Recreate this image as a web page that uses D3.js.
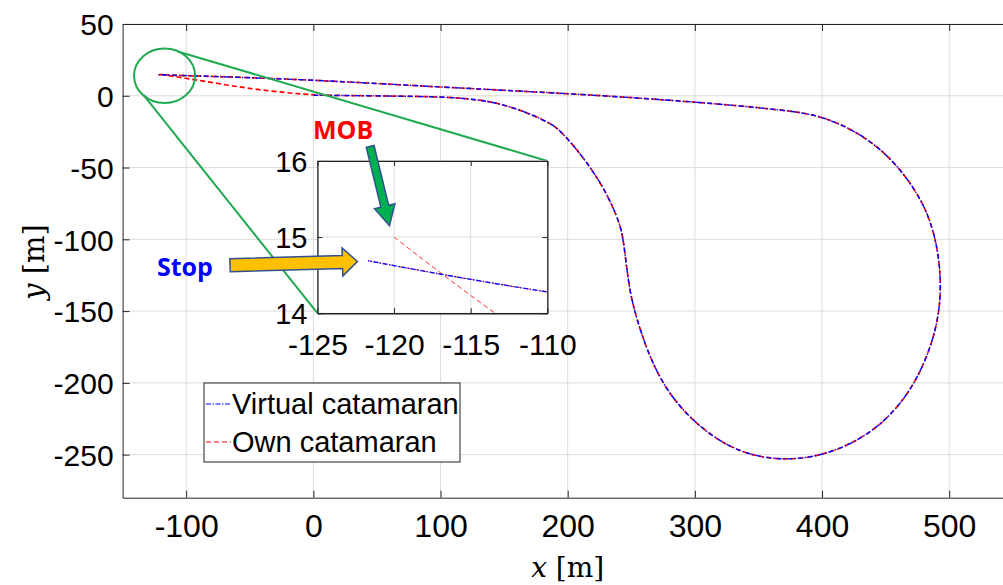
<!DOCTYPE html>
<html>
<head>
<meta charset="utf-8">
<script src="https://cdn.jsdelivr.net/npm/d3@7"></script>
<style>
  body { margin: 0; background: #fff; }
  svg { display: block; }
  .tick text { font-family: "Liberation Sans", Arial, sans-serif; fill: #000; }
</style>
</head>
<body>
<div id="chart"></div>
<script>
// ticks
var xTicks = [-100, 0, 100, 200, 300, 400, 500];
var yTicks = [50, 0, -50, -100, -150, -200, -250];
var insetXTicks = [-125, -120, -115, -110];
var insetYTicks = [14, 15, 16];

// virtual catamaran: lower leg -> loop -> upper leg back to stop point
var virtualX = [0, 40, 94, 121, 147, 173, 186, 194, 212, 228, 239, 243, 245, 247, 250, 260, 275, 299, 333, 372, 409, 443, 467, 482, 491, 494, 491, 482, 461, 435, 401, 370, 300, 199, 94, -10, -110, -121.7];
var virtualY = [0.4, 0, -0.5, -1.8, -5, -13.4, -19.2, -23.8, -42.4, -63.3, -84.2, -96, -109.7, -124, -142.3, -172.4, -202.6, -228.1, -249, -254.9, -249, -232.8, -209.6, -184, -158.5, -133, -105.1, -77.3, -49.4, -28.5, -13.9, -9.9, -4.1, 1.7, 6.3, 11.6, 14.28, 14.69];

// own catamaran: from MOB point towards the lower leg, then same loop
var ownX = [-120, -113.4, -100, -73, -47, -20, 0, 40, 94, 121, 147, 173, 186, 194, 212, 228, 239, 243, 245, 247, 250, 260, 275, 299, 333, 372, 409, 443, 467, 482, 491, 494, 491, 482, 461, 435, 401, 370, 300, 199, 94, -10, -110, -121.7];
var ownY = [15, 14, 12.2, 8.2, 4.6, 2, 0.4, 0, -0.5, -1.8, -5, -13.4, -19.2, -23.8, -42.4, -63.3, -84.2, -96, -109.7, -124, -142.3, -172.4, -202.6, -228.1, -249, -254.9, -249, -232.8, -209.6, -184, -158.5, -133, -105.1, -77.3, -49.4, -28.5, -13.9, -9.9, -4.1, 1.7, 6.3, 11.6, 14.28, 14.69];

var seriesNames = ["Virtual catamaran", "Own catamaran"];

var width = 1003, height = 585;

var svg = d3.select("#chart").append("svg")
  .attr("width", width)
  .attr("height", height);

var x = d3.scaleLinear().domain([-150, 550]).range([122.6, 1012.8]);
var y = d3.scaleLinear().domain([-280, 50]).range([497.7, 24]);

var virtualPts = virtualX.map(function(v, i) { return [v, virtualY[i]]; });
var ownPts = ownX.map(function(v, i) { return [v, ownY[i]]; });

var fmt = function(d) { return String(d); };

var defs = svg.append("defs");
defs.append("clipPath").attr("id", "clipMain").append("rect")
  .attr("x", x(-150)).attr("y", y(50))
  .attr("width", x(550) - x(-150)).attr("height", y(-280) - y(50));

// grid
var grid = svg.append("g");
grid.selectAll(".gx").data(xTicks).enter().append("line")
  .attr("x1", function(d) { return x(d); }).attr("x2", function(d) { return x(d); })
  .attr("y1", y(50)).attr("y2", y(-280))
  .attr("stroke", "#dcdcdc").attr("stroke-width", 1);
grid.selectAll(".gy").data(yTicks).enter().append("line")
  .attr("x1", x(-150)).attr("x2", x(550))
  .attr("y1", function(d) { return y(d); }).attr("y2", function(d) { return y(d); })
  .attr("stroke", "#dcdcdc").attr("stroke-width", 1);

// main lines
var line = d3.line()
  .x(function(d) { return x(d[0]); })
  .y(function(d) { return y(d[1]); })
  .curve(d3.curveBasis);

var plot = svg.append("g").attr("clip-path", "url(#clipMain)");
plot.append("path").datum(ownPts)
  .attr("d", line).attr("fill", "none")
  .attr("stroke", "#ff0000").attr("stroke-width", 1.7)
  .attr("stroke-dasharray", "5,3");
plot.append("path").datum(virtualPts)
  .attr("d", line).attr("fill", "none")
  .attr("stroke", "#0000ff").attr("stroke-width", 1.4)
  .attr("stroke-dasharray", "5,2,1.5,2");

// axes (ticks pointing inwards)
var axisBottom = d3.axisBottom(x).tickValues(xTicks).tickSizeInner(-7).tickSizeOuter(0).tickPadding(17)
  .tickFormat(fmt);
var gx = svg.append("g").attr("transform", "translate(0," + y(-280) + ")").call(axisBottom);
gx.selectAll(".tick text").style("font-size", "32px");

var axisTop = d3.axisTop(x).tickValues(xTicks).tickSizeInner(-7).tickSizeOuter(0).tickFormat("");
svg.append("g").attr("transform", "translate(0," + y(50) + ")").call(axisTop);

var axisLeft = d3.axisLeft(y).tickValues(yTicks).tickSizeInner(-7).tickSizeOuter(0).tickPadding(9)
  .tickFormat(fmt);
var gy = svg.append("g").attr("transform", "translate(" + x(-150) + ",0)").call(axisLeft);
gy.selectAll(".tick text").style("font-size", "30px").attr("dy", "0.36em");

svg.selectAll(".domain").attr("stroke", "#262626");
svg.selectAll(".tick line").attr("stroke", "#262626");

// axis labels
svg.append("text")
  .attr("x", (x(-150) + x(550)) / 2).attr("y", 577)
  .attr("text-anchor", "middle")
  .style("font-family", "'DejaVu Serif', 'Liberation Serif', serif")
  .style("font-size", "28px")
  .html('<tspan font-style="italic">x</tspan> [m]');

svg.append("text")
  .attr("transform", "translate(44," + 262 + ") rotate(-90)")
  .attr("text-anchor", "middle")
  .style("font-family", "'DejaVu Serif', 'Liberation Serif', serif")
  .style("font-size", "29px")
  .html('<tspan font-style="italic">y</tspan> [m]');

// zoom circle and connectors (main data coords)
var green = "#1faa4f";
var insetBox = { x0: 3.2, x1: 184, yTop: -45.4, yBot: -151.5 };
svg.append("ellipse")
  .attr("cx", x(-117)).attr("cy", y(14))
  .attr("rx", x(-117 + 24) - x(-117)).attr("ry", y(14 - 19) - y(14))
  .attr("fill", "none").attr("stroke", green).attr("stroke-width", 2);
svg.append("line")
  .attr("x1", x(-106)).attr("y1", y(30.7))
  .attr("x2", x(insetBox.x1)).attr("y2", y(insetBox.yTop))
  .attr("stroke", green).attr("stroke-width", 2);
svg.append("line")
  .attr("x1", x(-133.6)).attr("y1", y(0.6))
  .attr("x2", x(insetBox.x0)).attr("y2", y(insetBox.yBot))
  .attr("stroke", green).attr("stroke-width", 2);

// inset
var ix = d3.scaleLinear().domain([-125, -110]).range([x(insetBox.x0), x(insetBox.x1)]);
var iy = d3.scaleLinear().domain([14, 16]).range([y(insetBox.yBot), y(insetBox.yTop)]);

defs.append("clipPath").attr("id", "clipInset").append("rect")
  .attr("x", ix(-125)).attr("y", iy(16))
  .attr("width", ix(-110) - ix(-125)).attr("height", iy(14) - iy(16));

var inset = svg.append("g");
inset.append("rect")
  .attr("x", ix(-125)).attr("y", iy(16))
  .attr("width", ix(-110) - ix(-125)).attr("height", iy(14) - iy(16))
  .attr("fill", "#fff");
inset.selectAll(".igx").data(insetXTicks).enter().append("line")
  .attr("x1", function(d) { return ix(d); }).attr("x2", function(d) { return ix(d); })
  .attr("y1", iy(16)).attr("y2", iy(14))
  .attr("stroke", "#dcdcdc");
inset.selectAll(".igy").data(insetYTicks).enter().append("line")
  .attr("x1", ix(-125)).attr("x2", ix(-110))
  .attr("y1", function(d) { return iy(d); }).attr("y2", function(d) { return iy(d); })
  .attr("stroke", "#dcdcdc");

var iline = d3.line()
  .x(function(d) { return ix(d[0]); })
  .y(function(d) { return iy(d[1]); })
  .curve(d3.curveCatmullRom.alpha(0.5));
var iplot = inset.append("g").attr("clip-path", "url(#clipInset)");
iplot.append("path").datum(ownPts)
  .attr("d", iline).attr("fill", "none")
  .attr("stroke", "#ff3030").attr("stroke-width", 1)
  .attr("stroke-dasharray", "5,3");
iplot.append("path").datum(virtualPts)
  .attr("d", iline).attr("fill", "none")
  .attr("stroke", "#1010ff").attr("stroke-width", 1.4)
  .attr("stroke-dasharray", "5,1.5,1.5,1.5");

var iax = inset.append("g").attr("transform", "translate(0," + iy(14) + ")")
  .call(d3.axisBottom(ix).tickValues(insetXTicks).tickSizeInner(-5).tickSizeOuter(0).tickPadding(20).tickFormat(fmt));
iax.selectAll(".tick text").style("font-size", "30px");
inset.append("g").attr("transform", "translate(0," + iy(16) + ")")
  .call(d3.axisTop(ix).tickValues(insetXTicks).tickSizeInner(-5).tickSizeOuter(0).tickFormat(""));
var iay = inset.append("g").attr("transform", "translate(" + ix(-125) + ",0)")
  .call(d3.axisLeft(iy).tickValues(insetYTicks).tickSizeInner(-5).tickSizeOuter(0).tickPadding(10).tickFormat(fmt));
iay.selectAll(".tick text").style("font-size", "29px").attr("dy", "0.36em");
inset.append("g").attr("transform", "translate(" + ix(-110) + ",0)")
  .call(d3.axisRight(iy).tickValues(insetYTicks).tickSizeInner(-5).tickSizeOuter(0).tickFormat(""));
inset.selectAll(".domain").attr("stroke", "#222").attr("stroke-width", 1.3);
inset.selectAll(".tick line").attr("stroke", "#222");

// block arrows (inset coords)
function arrowPoints(x0, y0, x1, y1, sw, hw, hl) {
  var dx = x1 - x0, dy = y1 - y0, len = Math.sqrt(dx * dx + dy * dy);
  var ux = dx / len, uy = dy / len, px = -uy, py = ux;
  var bx = x1 - ux * hl, by = y1 - uy * hl;
  return [
    [x0 + px * sw / 2, y0 + py * sw / 2],
    [bx + px * sw / 2, by + py * sw / 2],
    [bx + px * hw / 2, by + py * hw / 2],
    [x1, y1],
    [bx - px * hw / 2, by - py * hw / 2],
    [bx - px * sw / 2, by - py * sw / 2],
    [x0 - px * sw / 2, y0 - py * sw / 2]
  ];
}
var mobArrow = arrowPoints(ix(-121.56), iy(16.19), ix(-120.3), iy(15.15), 8, 21, 20);
var stopArrow = arrowPoints(ix(-130.7), iy(14.63), ix(-122.39), iy(14.68), 13, 28, 15);

svg.append("polygon")
  .attr("points", mobArrow.map(function(p) { return p.join(","); }).join(" "))
  .attr("fill", "#00b050").attr("stroke", "#2f528f").attr("stroke-width", 1.5);
svg.append("polygon")
  .attr("points", stopArrow.map(function(p) { return p.join(","); }).join(" "))
  .attr("fill", "#ffc000").attr("stroke", "#2f528f").attr("stroke-width", 1.5);

svg.append("text")
  .attr("x", 313).attr("y", 139)
  .style("font-family", "'Open Sans', 'Noto Sans', sans-serif")
  .style("font-weight", "bold").style("font-size", "25px")
  .attr("fill", "#ff0000")
  .text("MOB");
svg.append("text")
  .attr("x", 157).attr("y", 276)
  .style("font-family", "'Open Sans', 'Noto Sans', sans-serif")
  .style("font-weight", "bold").style("font-size", "25px")
  .attr("fill", "#0000ff")
  .text("Stop");

// legend
var legend = svg.append("g").attr("transform", "translate(204,383)");
legend.append("rect")
  .attr("width", 256).attr("height", 79)
  .attr("fill", "#fff").attr("stroke", "#222").attr("stroke-width", 1);
var legendStyles = [
  { color: "#0000ff", dash: "5,1.5,1.5,1.5" },
  { color: "#ff0000", dash: "5,3" }
];
var entry = legend.selectAll(".entry").data(seriesNames).enter().append("g")
  .attr("transform", function(d, i) { return "translate(0," + (21 + i * 38) + ")"; });
entry.append("line")
  .attr("x1", 2).attr("x2", 27)
  .attr("stroke", function(d, i) { return legendStyles[i].color; })
  .attr("stroke-dasharray", function(d, i) { return legendStyles[i].dash; })
  .attr("stroke-width", 1.2);
entry.append("text")
  .attr("x", 28).attr("dy", "0.36em")
  .style("font-family", "'Liberation Sans', Arial, sans-serif")
  .style("font-size", "29px")
  .text(function(d) { return d; });
</script>
</body>
</html>
